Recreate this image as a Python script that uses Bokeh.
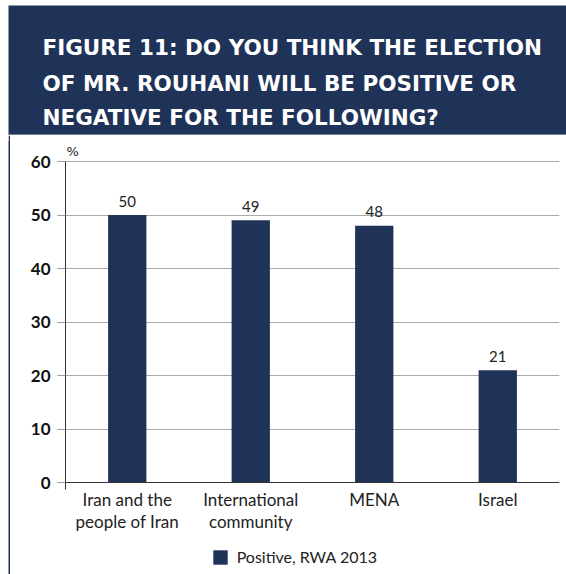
from bokeh.plotting import figure
from bokeh.models import (FactorRange, Range1d, Legend, LegendItem, Label, Span,
                          FixedTicker, ColumnDataSource)
from bokeh.layouts import column, row
from bokeh.embed import file_html
from bokeh.resources import INLINE
from bokeh.core.properties import value

# ---- data ----
categories = ["Iran and the\npeople of Iran", "International\ncommunity", "MENA", "Israel"]
positive = [50, 49, 48, 21]
series_name = "Positive, RWA 2013"
title_lines = ["FIGURE 11: DO YOU THINK THE ELECTION",
               "OF MR. ROUHANI WILL BE POSITIVE OR",
               "NEGATIVE FOR THE FOLLOWING?"]
y_ticks = [0, 10, 20, 30, 40, 50, 60]
unit_label = "%"

NAVY = "#1f3359"
FONT = "Lato"

# ---- header ----
header = figure(width=558, height=130, x_range=Range1d(0, 558), y_range=Range1d(130, 0),
                x_axis_type=None, y_axis_type=None, output_backend="svg",
                toolbar_location=None, min_border=0, margin=(5, 0, 0, 8),
                background_fill_color=NAVY, border_fill_color=NAVY, outline_line_color=None)
header.xgrid.visible = False
header.ygrid.visible = False
hsrc = ColumnDataSource(dict(x=[34, 34, 34], y=[42.3, 77.7, 111.7], t=title_lines))
header.text(x="x", y="y", text="t", source=hsrc, text_color="white",
            text_font=value("DejaVu Sans"), text_font_style="bold",
            text_font_size="21.5px", text_baseline="alphabetic", text_align="left")
header.add_layout(Span(location=129.5, dimension="width", line_color="#c8cdd6", line_width=1))

# ---- left border strip ----
strip = figure(width=2, height=439, x_axis_type=None, y_axis_type=None, output_backend="svg",
               toolbar_location=None, min_border=0, margin=(0, 0, 0, 8),
               background_fill_color=NAVY, border_fill_color=NAVY, outline_line_color=None)
strip.xgrid.visible = False
strip.ygrid.visible = False

# ---- chart ----
PX = 5.35  # pixels per percentage point
src = ColumnDataSource(dict(cat=categories, val=positive, lab=[str(v) for v in positive]))
p = figure(width=556, height=439, x_range=FactorRange(factors=categories),
           y_range=Range1d(-92 / PX, 342 / PX),
           output_backend="svg", toolbar_location=None,
           min_border_left=55, min_border_right=7, min_border_top=5, min_border_bottom=0,
           background_fill_color="white", border_fill_color="white", outline_line_color=None,
           margin=(0, 0, 0, 0))

r = p.vbar(x="cat", top="val", width=0.31, source=src, fill_color=NAVY, line_color=None)
p.text(x="cat", y="val", text="lab", source=src, text_align="center", text_baseline="middle",
       y_offset=-14, text_font=value(FONT), text_font_size="15px", text_color="#222222")

p.xgrid.visible = False
p.ygrid.ticker = FixedTicker(ticks=y_ticks)
p.ygrid.grid_line_color = "#aaaaaa"
p.ygrid.grid_line_width = 1

p.yaxis.ticker = FixedTicker(ticks=y_ticks)
p.yaxis.bounds = (-1.3, 60)
p.yaxis.major_tick_out = 8
p.yaxis.major_tick_in = 0
p.yaxis.minor_tick_line_color = None
p.yaxis.major_tick_line_color = "#999999"
p.yaxis.axis_line_color = "#333333"
p.yaxis.major_label_text_font = FONT
p.yaxis.major_label_text_font_style = "bold"
p.yaxis.major_label_text_font_size = "17px"
p.yaxis.major_label_text_color = "#111111"
p.yaxis.major_label_standoff = 7

p.xaxis.fixed_location = 0
p.xaxis.major_tick_line_color = None
p.xaxis.minor_tick_line_color = None
p.xaxis.axis_line_color = "#333333"
p.xaxis.major_label_text_font = FONT
p.xaxis.major_label_text_font_size = "17px"
p.xaxis.major_label_text_line_height = 1.05
p.xaxis.major_label_text_color = "#222222"
p.xaxis.major_label_standoff = 0

p.add_layout(Label(x=0, y=61.9, x_offset=1, text=unit_label, text_font="DejaVu Sans",
                   text_font_size="13px", text_align="left", text_baseline="middle",
                   text_color="#222222"))

legend = Legend(items=[LegendItem(label=series_name, renderers=[r])],
                location=(145.7, 8), orientation="horizontal",
                glyph_width=18, glyph_height=18, label_height=18, label_standoff=8,
                label_text_font=FONT, label_text_font_size="16px",
                label_text_color="#222222", padding=0, margin=0, spacing=0,
                border_line_color=None, background_fill_alpha=0)
p.add_layout(legend)

layout = column(header, row(strip, p, spacing=0), spacing=0)
open("out.html", "w").write(file_html(layout, INLINE))
